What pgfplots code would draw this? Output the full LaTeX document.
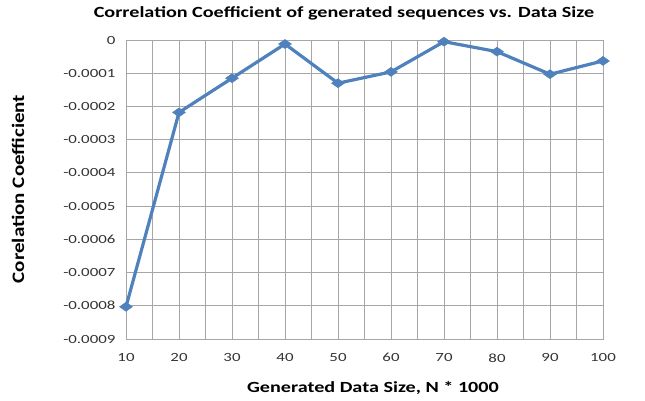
\documentclass[border=0pt]{standalone}
\usepackage{fontspec}
\setmainfont{Carlito}
\newfontfamily\tickfont[FakeStretch=1.35]{Carlito}
\newfontfamily\labfont[FakeStretch=1.3]{Carlito}
\newfontfamily\ylabfont[FakeStretch=1.2]{Carlito}
\usepackage{pgfplots}
\pgfplotsset{compat=1.18}
\definecolor{serie}{HTML}{4F81BD}
\definecolor{gridc}{HTML}{A6A6A6}
\begin{document}
\begin{tikzpicture}[x=1pt,y=1pt]
\useasboundingbox (-126,-62) rectangle (519,339);
\begin{axis}[
  at={(0,0)}, anchor=south west,
  scale only axis, width=477pt, height=299pt,
  xmin=10, xmax=100, ymin=-0.0009, ymax=0,
  xtick={10,20,...,100},
  minor xtick={15,25,...,95},
  ytick={-0.0009,-0.0008,...,0},
  yticklabels={-0.0009,-0.0008,-0.0007,-0.0006,-0.0005,-0.0004,-0.0003,-0.0002,-0.0001,0},
  grid=both,
  major grid style={gridc, line width=0.8pt},
  minor grid style={gridc, line width=0.8pt},
  axis line style={gridc, line width=0.8pt},
  tick style={draw=none},
  ticklabel style={font=\tickfont\fontsize{12.5}{12.5}\selectfont, text=black!80},
  xticklabel style={yshift=-11pt},
  yticklabel style={xshift=-7pt},
  scaled y ticks=false,
  /pgf/number format/assume math mode=true,
  clip=false,
]
\addplot[serie, line width=3.2pt, mark=diamond*, mark size=4.5pt, mark options={solid, fill=serie, line width=0.5pt, xscale=1.9}] coordinates {
(10,-0.000803) (20,-0.000218) (30,-0.000115) (40,-0.000012) (50,-0.000130)
(60,-0.000096) (70,-0.000005) (80,-0.000035) (90,-0.000103) (100,-0.000063)
};
\end{axis}
\node[font=\labfont\bfseries\fontsize{15.5}{15.5}\selectfont] at (218,326) {Correlation Coefficient of generated sequences vs. Data Size};
\node[font=\labfont\bfseries\fontsize{15.5}{15.5}\selectfont] at (247,-49) {Generated Data Size, N * 1000};
\node[font=\ylabfont\bfseries\fontsize{17.5}{17.5}\selectfont, rotate=90] at (-108,150) {Corelation Coefficient};
\end{tikzpicture}
\end{document}
